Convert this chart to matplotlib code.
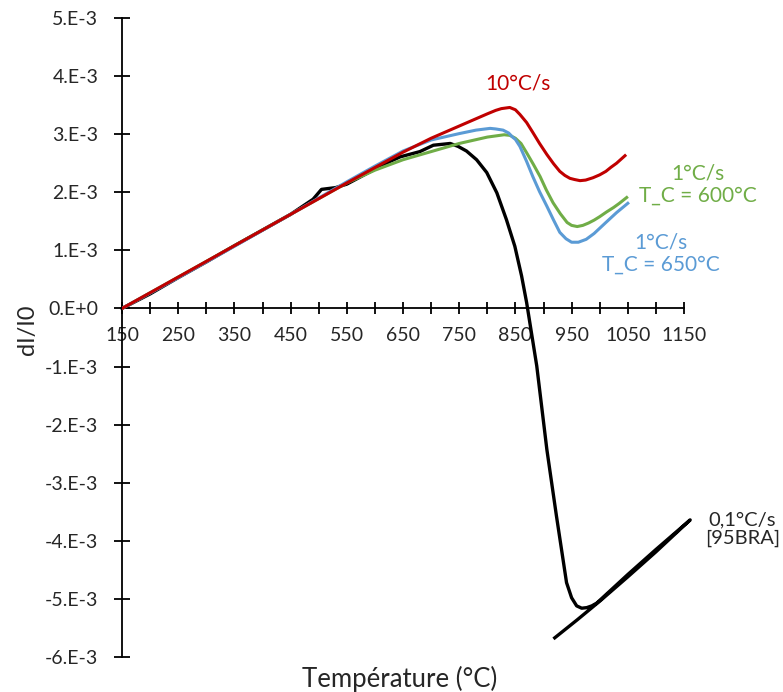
import numpy as np
import matplotlib
matplotlib.use("Agg")
import matplotlib.pyplot as plt
from matplotlib.ticker import MultipleLocator, FixedLocator, FuncFormatter

plt.rcParams["font.family"] = ["Lato", "DejaVu Sans"]

# ---------------------------
# Data (dI/I0 in units of 1e-3)
# ---------------------------

t_red = [150, 250, 350, 450, 550, 650, 700, 750, 800, 815, 825, 840, 850, 858,
         870, 881, 893, 906, 918, 929, 938, 947, 955, 965, 975, 988, 1000,
         1011, 1020, 1030, 1045]
y_red = [0, 0.54, 1.08, 1.62, 2.16, 2.69, 2.93, 3.14, 3.35, 3.41, 3.44, 3.46,
         3.42, 3.34, 3.20, 3.03, 2.84, 2.65, 2.49, 2.36, 2.29, 2.24, 2.22, 2.20,
         2.21, 2.25, 2.30, 2.36, 2.43, 2.50, 2.63]

t_green = [150, 250, 350, 450, 550, 600, 650, 700, 750, 800, 830, 840, 850,
           860, 870, 882, 894, 905, 917, 930, 942, 950, 960, 970, 980, 990,
           1000, 1012, 1025, 1035, 1048]
y_green = [0, 0.54, 1.08, 1.62, 2.16, 2.38, 2.56, 2.70, 2.84, 2.95, 2.99, 2.98,
           2.93, 2.84, 2.68, 2.48, 2.27, 2.04, 1.82, 1.63, 1.48, 1.43, 1.41,
           1.43, 1.47, 1.52, 1.58, 1.66, 1.74, 1.81, 1.91]

t_blue = [150, 250, 350, 450, 550, 600, 650, 700, 750, 780, 805, 815, 828, 838,
          845, 850, 858, 870, 881, 893, 906, 918, 929, 940, 950, 962, 976, 990,
          1011, 1030, 1050]
y_blue = [0, 0.53, 1.07, 1.62, 2.18, 2.45, 2.71, 2.90, 3.01, 3.07, 3.10, 3.09,
          3.07, 3.02, 2.95, 2.91, 2.79, 2.53, 2.27, 2.01, 1.76, 1.52, 1.31, 1.20,
          1.14, 1.14, 1.19, 1.29, 1.48, 1.65, 1.81]

# 0.1 C/s reference curve [95BRA]: heating, drop, then loop up and back
t_black = [150, 200, 250, 300, 350, 400, 450, 490, 505, 530, 550, 585, 620, 645,
           680, 704, 734, 748, 763, 781, 799, 817, 834, 849, 861, 870, 888, 906,
           923, 941, 950, 959, 968, 977, 986, 995, 1050, 1100, 1161,
           1100, 1050, 1000, 960, 920]
y_black = [0, 0.25, 0.53, 0.80, 1.08, 1.35, 1.62, 1.88, 2.05, 2.08, 2.14, 2.32,
           2.50, 2.61, 2.70, 2.81, 2.84, 2.79, 2.71, 2.56, 2.34, 1.99, 1.53, 1.07,
           0.56, 0.10, -0.99, -2.43, -3.57, -4.72, -4.98, -5.12, -5.16, -5.15,
           -5.12, -5.07, -4.58, -4.15, -3.64,
           -4.19, -4.62, -5.04, -5.36, -5.67]

x_major = [150, 250, 350, 450, 550, 650, 750, 850, 950, 1050, 1150]
x_minor = [200, 300, 400, 500, 600, 700, 800, 900, 1000, 1100]

RED = "#C00000"
GREEN = "#70AD47"
BLUE = "#5B9BD5"
TXT = "#262626"


def ylab(v, pos):
    k = int(round(v * 1e3))
    if k == 0:
        return "0.E+0"
    return f"{k}.E-3"


fig = plt.figure(figsize=(7.83, 6.92), dpi=100)
ax = fig.add_axes([122 / 783, 35 / 692, 562 / 783, 639 / 692])

sc = 1e-3
ax.plot(t_black, np.array(y_black) * sc, color="black", lw=2.4, clip_on=False,
        solid_joinstyle="round", zorder=3)
ax.plot(t_green, np.array(y_green) * sc, color=GREEN, lw=2.2, zorder=4)
ax.plot(t_blue, np.array(y_blue) * sc, color=BLUE, lw=2.2, zorder=4)
ax.plot(t_red, np.array(y_red) * sc, color=RED, lw=2.2, zorder=5)

ax.set_xlim(150, 1150)
ax.set_ylim(-6e-3, 5e-3)

for s in ["top", "right"]:
    ax.spines[s].set_visible(False)
ax.spines["bottom"].set_position(("data", 0))
for s in ["left", "bottom"]:
    ax.spines[s].set_linewidth(1.3)

ax.xaxis.set_major_locator(FixedLocator(x_major))
ax.xaxis.set_minor_locator(FixedLocator(x_minor))
ax.yaxis.set_major_locator(MultipleLocator(1e-3))
ax.yaxis.set_major_formatter(FuncFormatter(ylab))

ax.tick_params(axis="both", which="both", direction="inout", width=1.3,
               colors="black", labelsize=14)
ax.tick_params(axis="x", which="both", length=9, pad=9)
ax.tick_params(axis="y", which="major", length=12, pad=11)
for lbl in ax.get_xticklabels() + ax.get_yticklabels():
    lbl.set_color(TXT)

fs = 15
ax.text(855, 3.87e-3, "10°C/s", color=RED, fontsize=fs, ha="center", va="center")
ax.text(1175, 2.13e-3, "1°C/s\nT_C = 600°C", color=GREEN, fontsize=fs,
        ha="center", va="center", linespacing=1.15, clip_on=False)
ax.text(1109, 0.95e-3, "1°C/s\nT_C = 650°C", color=BLUE, fontsize=fs,
        ha="center", va="center", linespacing=1.15, clip_on=False)
ax.text(1254, -3.80e-3, "0,1°C/s\n[95BRA]", color=TXT, fontsize=14.5,
        ha="center", va="center", linespacing=1.15, clip_on=False)

fig.text(400 / 783, 1 - 679 / 692, "Température (°C)", fontsize=18.5,
         ha="center", va="center", color=TXT)
fig.text(28 / 783, 1 - 330 / 692, "dI/I0", fontsize=17, rotation=90,
         ha="center", va="center", color=TXT)

fig.savefig("out.png", dpi=100)
